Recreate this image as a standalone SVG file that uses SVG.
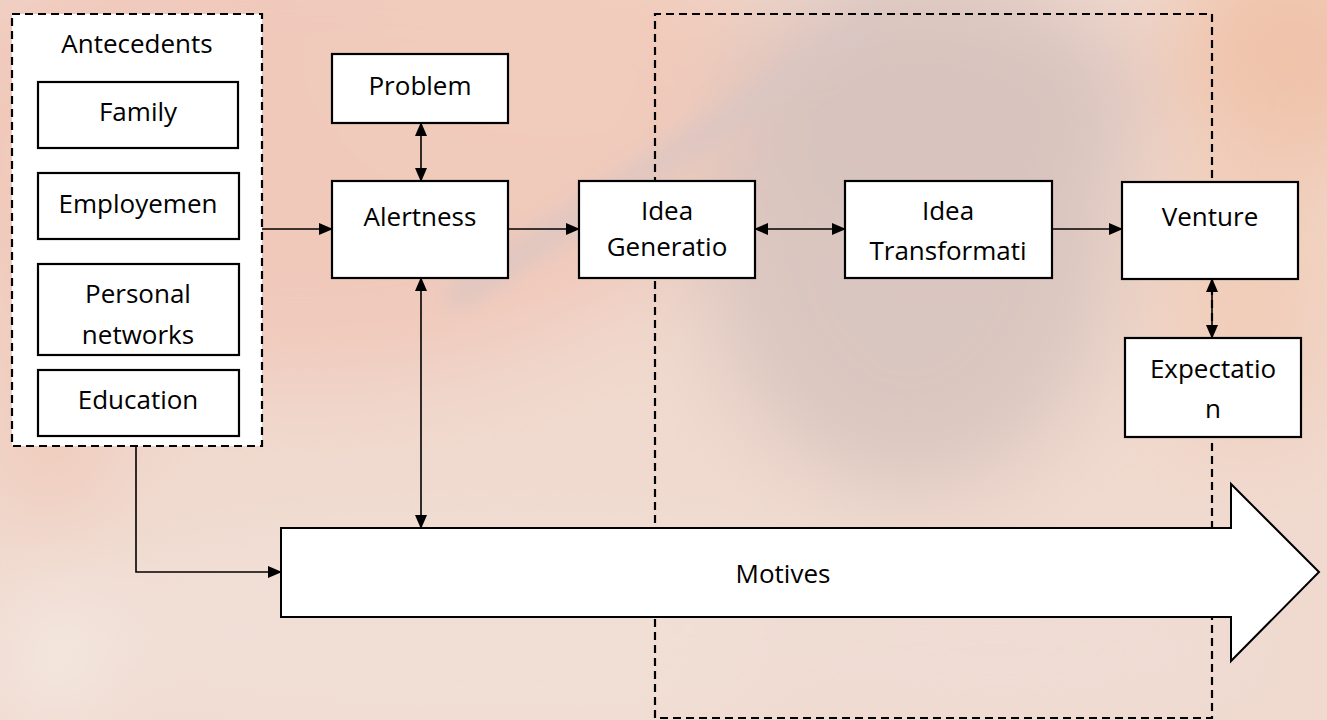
<svg xmlns="http://www.w3.org/2000/svg" width="1327" height="720" viewBox="0 0 1327 720">
<defs>
<style>
.box{fill:#fff;stroke:#000;stroke-width:2.2}
.dash{fill:none;stroke:#000;stroke-width:2.2;stroke-dasharray:8 5}
.con{fill:none;stroke:#000;stroke-width:1.6}
text{font-family:"Open Sans","Liberation Sans",sans-serif;font-size:26px;fill:#000;text-anchor:middle}
</style>
<marker id="ah" markerUnits="userSpaceOnUse" markerWidth="14" markerHeight="12" refX="13" refY="6" orient="auto-start-reverse" viewBox="0 0 14 12">
<path d="M0,0 L14,6 L0,12 Z" fill="#000"/>
</marker>
<filter id="blur" x="-20%" y="-20%" width="140%" height="140%"><feGaussianBlur stdDeviation="45"/></filter>
<filter id="blur2" x="-20%" y="-20%" width="140%" height="140%"><feGaussianBlur stdDeviation="12"/></filter>
</defs>

<g id="background">
<rect x="0" y="0" width="1327" height="720" fill="#f0d9ce"/>
<g filter="url(#blur)">
<ellipse cx="300" cy="150" rx="420" ry="230" fill="#f0c9bb"/>
<ellipse cx="560" cy="60" rx="220" ry="120" fill="#f1cbbb"/>
<ellipse cx="1290" cy="60" rx="120" ry="120" fill="#f0c3aa"/>
<ellipse cx="1250" cy="280" rx="90" ry="160" fill="#f1cdb9"/>
<ellipse cx="910" cy="230" rx="210" ry="260" fill="#dac6c0"/>
<ellipse cx="940" cy="110" rx="200" ry="130" fill="#d8c3be"/>
<ellipse cx="500" cy="630" rx="500" ry="110" fill="#f1dfd6"/>
<ellipse cx="1000" cy="650" rx="300" ry="90" fill="#efdcd3"/>
<ellipse cx="50" cy="660" rx="45" ry="80" fill="#f4e9e3"/>
<ellipse cx="50" cy="330" rx="70" ry="200" fill="#f0cbbc"/>
</g>
<g filter="url(#blur2)">
<path d="M450,300 L880,20" stroke="#d9c6c3" stroke-width="20" fill="none"/>
</g>
</g>

<g id="antecedents-group">
<rect x="12" y="14" width="250" height="432" fill="#fff" stroke="#000" stroke-width="2.2" stroke-dasharray="8 5"/>
<text x="137" y="53">Antecedents</text>
</g>
<g id="process-group">
<path class="dash" d="M655,718 L655,14 L1212,14 L1212,718 Z"/>
</g>

<g id="connectors">
<line class="con" x1="262" y1="229" x2="332" y2="229" marker-end="url(#ah)"/>
<line class="con" x1="421" y1="123" x2="421" y2="181" marker-start="url(#ah)" marker-end="url(#ah)"/>
<line class="con" x1="508" y1="229" x2="579" y2="229" marker-end="url(#ah)"/>
<line class="con" x1="755" y1="229" x2="845" y2="229" marker-start="url(#ah)" marker-end="url(#ah)"/>
<line class="con" x1="1052" y1="229" x2="1122" y2="229" marker-end="url(#ah)"/>
<line class="con" x1="1212" y1="279" x2="1212" y2="338" marker-start="url(#ah)" marker-end="url(#ah)"/>
<line class="con" x1="421" y1="278" x2="421" y2="528" marker-start="url(#ah)" marker-end="url(#ah)"/>
<polyline class="con" points="136,446 136,572 281,572" marker-end="url(#ah)"/>
</g>

<g id="family"><rect class="box" x="38" y="82" width="200" height="66"/><text x="138" y="121">Family</text></g>
<g id="employment"><rect class="box" x="38" y="173" width="201" height="66"/><text x="138" y="213">Employemen</text></g>
<g id="personal-networks"><rect class="box" x="38" y="264" width="201" height="91"/><text x="138" y="303">Personal</text><text x="138" y="344">networks</text></g>
<g id="education"><rect class="box" x="38" y="370" width="201" height="66"/><text x="138" y="409">Education</text></g>

<g id="problem"><rect class="box" x="332" y="54" width="176" height="69"/><text x="420" y="95">Problem</text></g>
<g id="alertness"><rect class="box" x="332" y="181" width="176" height="97"/><text x="420" y="226">Alertness</text></g>
<g id="idea-generation"><rect class="box" x="579" y="181" width="176" height="97"/><text x="667" y="220">Idea</text><text x="667" y="256">Generatio</text></g>
<g id="idea-transformation"><rect class="box" x="845" y="181" width="207" height="97"/><text x="948" y="220">Idea</text><text x="948" y="260">Transformati</text></g>
<g id="venture"><rect class="box" x="1122" y="182" width="176" height="97"/><text x="1210" y="226">Venture</text></g>
<g id="expectation"><rect class="box" x="1125" y="338" width="176" height="99"/><text x="1213" y="378">Expectatio</text><text x="1213" y="418">n</text></g>

<g id="motives">
<path d="M281,528 L1231,528 L1231,484 L1319,572 L1231,661 L1231,617 L281,617 Z" fill="#fff" stroke="#000" stroke-width="2" stroke-linejoin="miter"/>
<text x="783" y="583">Motives</text>
</g>
</svg>
